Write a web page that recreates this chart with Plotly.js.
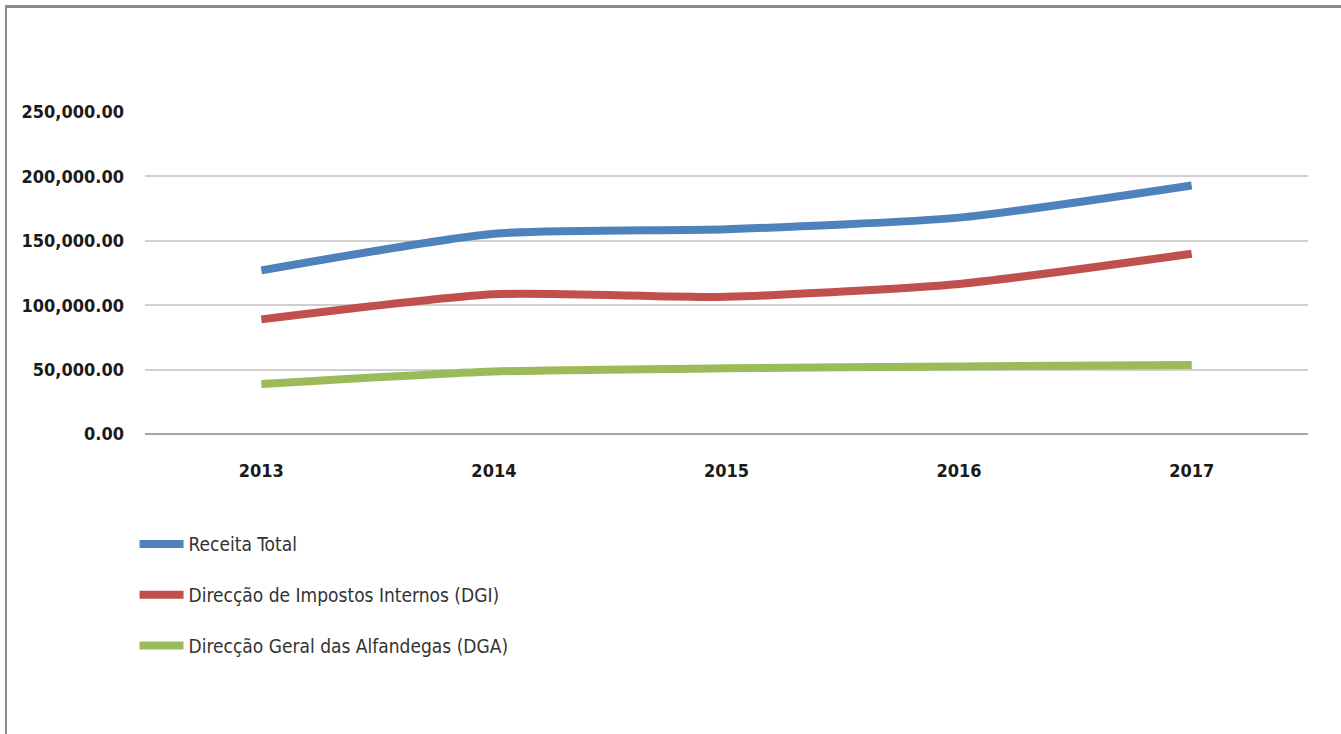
<!DOCTYPE html>
<html><head><meta charset="utf-8">
<script src="https://cdn.plot.ly/plotly-3.0.1.min.js"></script>
<style>
html,body{margin:0;padding:0;background:#fff;}
#frame{position:absolute;left:5px;top:5px;width:1336px;height:729px;border-top:3px solid #8c8c8c;border-left:2px solid #8c8c8c;box-sizing:border-box;}
#chart{position:absolute;left:0;top:0;width:1341px;height:734px;}
</style></head>
<body>
<div id="chart"></div>
<div id="frame"></div>
<script>
const years = ['2013','2014','2015','2016','2017'];
const receitaTotal = [127000, 155500, 159000, 168000, 193000];
const dgi = [89000, 108500, 106500, 116500, 140000];
const dga = [38800, 48500, 51000, 52500, 53500];
const seriesNames = ['Receita Total','Direcção de Impostos Internos (DGI)','Direcção Geral das Alfandegas (DGA)'];
const colors = ['#4F81BD','#C0504D','#9BBB59'];
const font = '"Liberation Sans Narrow", "DejaVu Sans Condensed", Arial, sans-serif';
const data = [receitaTotal, dgi, dga].map((ys,i)=>({
  x: years, y: ys, type:'scatter', mode:'lines', name: seriesNames[i],
  line:{color:colors[i], width:8, shape:'spline', smoothing:0.6},
  legendgroup:'g'+i
}));
const layout = {
  width:1341, height:734,
  paper_bgcolor:'#fff', plot_bgcolor:'#fff',
  margin:{l:145, r:33, t:112, b:300},
  showlegend:true,
  legend:{x:-0.009, y:-0.283, xanchor:'left', yanchor:'top', orientation:'v',
    font:{family:font, size:19, color:'#333'}, tracegroupgap:23, itemwidth:44},
  xaxis:{type:'category', range:[-0.5,4.5], showgrid:false, zeroline:false,
    showline:false, ticks:'', ticklabelstandoff:24,
    tickfont:{family:font, size:18, color:'#1a1a1a', weight:'bold'}},
  yaxis:{range:[0,250000], dtick:50000, tickformat:',.2f', showgrid:true,
    gridcolor:'#d0d0d0', gridwidth:2, zeroline:true, zerolinecolor:'#a6a6a6', zerolinewidth:2,
    showline:false, ticks:'', ticklabelstandoff:20,
    tickfont:{family:font, size:18, color:'#1a1a1a', weight:'bold'}}
};
Plotly.newPlot('chart', data, layout, {displayModeBar:false, staticPlot:true});
</script>
</body></html>
